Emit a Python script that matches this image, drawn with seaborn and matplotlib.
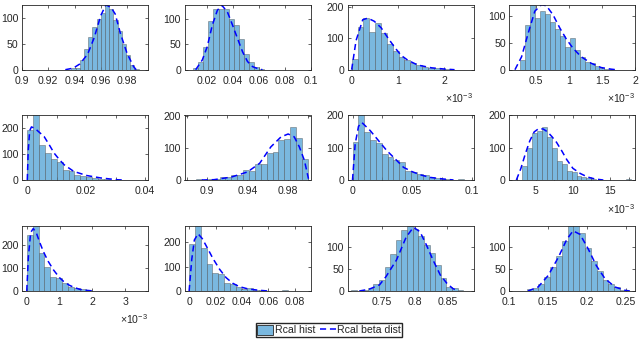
import numpy as np
import pandas as pd
import matplotlib
matplotlib.use("Agg")
import matplotlib.pyplot as plt
from matplotlib.patches import Patch
from matplotlib.lines import Line2D
import seaborn as sns

# ---- values (bin start, bin width, counts, fitted curve) ----
p1_start, p1_width = 0.9376, 0.0032
p1_counts = [4, 3, 18, 40, 63, 82, 99, 110, 126, 118, 97, 75, 50, 28, 10, 2]
p1_cx = [0.933, 0.939, 0.944, 0.950, 0.955, 0.960, 0.964, 0.968, 0.971, 0.975, 0.980, 0.985, 0.987]
p1_cy = [0, 3, 11, 30, 62, 105, 126, 120, 108, 70, 32, 6, 0]

p2_start, p2_width = 0.0097, 0.0039
p2_counts = [3, 16, 45, 95, 118, 118, 118, 100, 88, 60, 30, 15, 5, 1]
p2_cx = [0.0116, 0.0167, 0.0205, 0.0244, 0.0283, 0.0317, 0.036, 0.040, 0.0438, 0.0477, 0.0515, 0.0554, 0.0606, 0.063]
p2_cy = [0, 19, 45, 87, 116, 126, 113, 87, 61, 35, 16, 6, 1, 0]

p3_start, p3_width = 0.0, 0.127e-3
p3_counts = [35, 136, 166, 121, 148, 119, 82, 61, 41, 32, 22, 15, 9, 6, 4, 2, 1]
p3_cx = [0.0, 0.095e-3, 0.24e-3, 0.35e-3, 0.49e-3, 0.64e-3, 0.78e-3, 0.93e-3, 1.07e-3, 1.22e-3, 1.43e-3, 1.73e-3, 2.02e-3, 2.23e-3]
p3_cy = [0, 93, 160, 165, 155, 134, 103, 72, 46, 30, 15, 6, 2, 0]

p4_start, p4_width = 0.26e-3, 0.075e-3
p4_counts = [18, 84, 125, 96, 109, 104, 88, 75, 62, 43, 59, 37, 23, 15, 13, 7, 4, 2, 1]
p4_cx = [0.185e-3, 0.285e-3, 0.385e-3, 0.485e-3, 0.585e-3, 0.66e-3, 0.76e-3, 0.86e-3, 0.96e-3, 1.06e-3, 1.185e-3, 1.335e-3, 1.485e-3, 1.635e-3, 1.71e-3]
p4_cy = [0, 24, 68, 109, 121, 119, 102, 78, 57, 40, 24, 12, 4, 1, 0]

p5_start, p5_width = 0.0, 0.002
p5_counts = [192, 255, 136, 106, 81, 69, 40, 33, 20, 17, 12, 8, 5, 3, 1, 1]
p5_cx = [0.0, 0.0003, 0.0008, 0.0014, 0.0025, 0.004, 0.0057, 0.0075, 0.0091, 0.0108, 0.0125, 0.0158, 0.0203, 0.0249, 0.0305, 0.033]
p5_cy = [0, 110, 190, 205, 200, 185, 168, 135, 104, 80, 59, 33, 17, 8, 1, 0]

p6_start, p6_width = 0.8777, 0.0058
p6_counts = [0, 0, 2, 1, 2, 3, 8, 9, 17, 15, 30, 28, 51, 51, 84, 87, 124, 126, 166, 129, 65]
p6_cx = [0.895, 0.907, 0.924, 0.940, 0.952, 0.963, 0.973, 0.980, 0.986, 0.991, 0.996, 1.0]
p6_cy = [0, 1, 9, 25, 52, 103, 134, 143, 134, 103, 61, 4]

p7_start, p7_width = 0.0, 0.0049
p7_counts = [116, 205, 147, 123, 113, 80, 70, 62, 54, 29, 24, 18, 15, 8, 6, 3, 2, 1, 2]
p7_cx = [0.0, 0.0022, 0.005, 0.0078, 0.0148, 0.0218, 0.0288, 0.0357, 0.0427, 0.0497, 0.0567, 0.065, 0.0762, 0.0846]
p7_cy = [0, 110, 165, 177, 152, 121, 90, 65, 39, 26, 16, 8, 3, 0]

p8_start, p8_width = 3.12e-3, 0.67e-3
p8_counts = [44, 100, 144, 150, 162, 131, 100, 59, 49, 29, 26, 13, 8, 5, 2, 1, 0, 0, 0, 0, 0, 2]
p8_cx = [2.4e-3, 3.0e-3, 3.6e-3, 4.2e-3, 4.8e-3, 5.4e-3, 6.0e-3, 6.6e-3, 7.2e-3, 7.8e-3, 8.5e-3, 9.2e-3, 10.0e-3, 11.0e-3, 12.0e-3, 13.0e-3, 14.1e-3]
p8_cy = [0, 35, 80, 120, 148, 158, 157, 148, 133, 116, 90, 62, 36, 20, 9, 3, 0]

p9_start, p9_width = 0.0, 0.18e-3
p9_counts = [243, 290, 167, 106, 62, 55, 36, 19, 12, 7, 3, 1]
p9_cx = [0.0, 0.05e-3, 0.12e-3, 0.2e-3, 0.3e-3, 0.4e-3, 0.51e-3, 0.65e-3, 0.82e-3, 1.0e-3, 1.13e-3, 1.3e-3, 1.44e-3, 1.6e-3, 1.74e-3, 2.05e-3]
p9_cy = [0, 150, 255, 272, 250, 210, 171, 130, 91, 58, 41, 25, 16, 8, 4, 0]

p10_start, p10_width = 0.0, 0.0044
p10_counts = [192, 270, 175, 110, 73, 68, 34, 29, 18, 10, 12, 5, 3, 2, 1, 0, 3]
p10_cx = [0.0, 0.002, 0.004, 0.0068, 0.010, 0.014, 0.018, 0.023, 0.028, 0.033, 0.038, 0.045, 0.053, 0.060]
p10_cy = [0, 130, 210, 235, 215, 175, 134, 90, 55, 32, 18, 8, 3, 0]

p11_start, p11_width = 0.7023, 0.0086
p11_counts = [3, 1, 2, 8, 16, 25, 55, 85, 118, 140, 149, 142, 125, 105, 88, 60, 30, 10, 7, 2]
p11_cx = [0.715, 0.730, 0.746, 0.756, 0.772, 0.787, 0.798, 0.808, 0.818, 0.828, 0.839, 0.849, 0.858, 0.866]
p11_cy = [0, 4, 14, 33, 71, 124, 146, 136, 105, 71, 37, 18, 6, 0]

p12_start, p12_width = 0.1224, 0.0075
p12_counts = [4, 6, 15, 31, 54, 80, 113, 150, 150, 132, 98, 67, 46, 26, 15, 9, 3, 1]
p12_cx = [0.124, 0.137, 0.150, 0.163, 0.174, 0.182, 0.191, 0.2015, 0.212, 0.223, 0.236, 0.249, 0.255]
p12_cy = [0, 9, 35, 76, 117, 136, 128, 95, 57, 28, 9, 1.5, 0]

# ---- axis ranges and tick labels ----
p1_xlim, p1_ylim = (0.9, 0.996), (0, 126)
p1_xticks = [0.9, 0.92, 0.94, 0.96, 0.98]
p1_xlabels = ["0.9", "0.92", "0.94", "0.96", "0.98"]
p2_xlim, p2_ylim = (0.003, 0.1), (0, 127)
p2_xticks = [0.02, 0.04, 0.06, 0.08, 0.1]
p2_xlabels = ["0.02", "0.04", "0.06", "0.08", "0.1"]
p3_xlim, p3_ylim = (-0.09e-3, 2.64e-3), (0, 208)
p3_xticks = [0.0, 1e-3, 2e-3]
p3_xlabels = ["0", "1", "2"]
p4_xlim, p4_ylim = (0.1e-3, 2.0e-3), (0, 121)
p4_xticks = [0.5e-3, 1e-3, 1.5e-3, 2e-3]
p4_xlabels = ["0.5", "1", "1.5", "2"]
p5_xlim, p5_ylim = (-0.0018, 0.041), (0, 251)
p5_xticks = [0, 0.01, 0.02, 0.03, 0.04]
p5_xlabels = ["0", "", "0.02", "", "0.04"]
p6_xlim, p6_ylim = (0.878, 1.002), (0, 202)
p6_xticks = [0.88, 0.9, 0.92, 0.94, 0.96, 0.98, 1.0]
p6_xlabels = ["", "0.9", "", "0.94", "", "0.98", ""]
p7_xlim, p7_ylim = (-0.0042, 0.1013), (0, 200)
p7_xticks = [0, 0.025, 0.05, 0.075, 0.1]
p7_xlabels = ["0", "", "0.05", "", "0.1"]
p8_xlim, p8_ylim = (1.45e-3, 18.4e-3), (0, 200)
p8_xticks = [2.5e-3, 5e-3, 7.5e-3, 10e-3, 12.5e-3, 15e-3, 17.5e-3]
p8_xlabels = ["", "5", "", "10", "", "15", ""]
p9_xlim, p9_ylim = (-0.145e-3, 3.7e-3), (0, 283)
p9_xticks = [0, 1e-3, 2e-3, 3e-3]
p9_xlabels = ["0", "1", "2", "3"]
p10_xlim, p10_ylim = (-0.0035, 0.092), (0, 267)
p10_xticks = [0, 0.02, 0.04, 0.06, 0.08]
p10_xlabels = ["0", "0.02", "0.04", "0.06", "0.08"]
p11_xlim, p11_ylim = (0.697, 0.89), (0, 149)
p11_xticks = [0.75, 0.8, 0.85]
p11_xlabels = ["0.75", "0.8", "0.85"]
p12_xlim, p12_ylim = (0.1, 0.262), (0, 147)
p12_xticks = [0.1, 0.15, 0.2, 0.25]
p12_xlabels = ["0.1", "0.15", "0.2", "0.25"]

sci_panels = [3, 4, 8, 9]   # panels carrying the x10^-3 exponent

FILL = "#7AB8DF"
EDGE = (0.2, 0.2, 0.2, 0.5)
AXC = "#262626"
FS = 7.6

sns.set_theme(style="ticks", rc={
    "axes.edgecolor": AXC, "axes.linewidth": 0.6,
    "xtick.color": AXC, "ytick.color": AXC,
    "xtick.direction": "in", "ytick.direction": "in",
    "xtick.major.size": 2.5, "ytick.major.size": 2.5,
    "xtick.major.width": 0.5, "ytick.major.width": 0.5,
    "xtick.labelsize": FS, "ytick.labelsize": FS,
    "xtick.major.pad": 4.5, "ytick.major.pad": 2.5,
})
plt.rcParams["font.family"] = ["Liberation Sans", "DejaVu Sans"]
plt.rcParams["mathtext.fontset"] = "custom"
plt.rcParams["mathtext.rm"] = "Liberation Sans"
plt.rcParams["mathtext.it"] = "Liberation Sans"

panels = [
    (p1_start, p1_width, p1_counts, p1_cx, p1_cy, p1_xlim, p1_ylim, p1_xticks, p1_xlabels),
    (p2_start, p2_width, p2_counts, p2_cx, p2_cy, p2_xlim, p2_ylim, p2_xticks, p2_xlabels),
    (p3_start, p3_width, p3_counts, p3_cx, p3_cy, p3_xlim, p3_ylim, p3_xticks, p3_xlabels),
    (p4_start, p4_width, p4_counts, p4_cx, p4_cy, p4_xlim, p4_ylim, p4_xticks, p4_xlabels),
    (p5_start, p5_width, p5_counts, p5_cx, p5_cy, p5_xlim, p5_ylim, p5_xticks, p5_xlabels),
    (p6_start, p6_width, p6_counts, p6_cx, p6_cy, p6_xlim, p6_ylim, p6_xticks, p6_xlabels),
    (p7_start, p7_width, p7_counts, p7_cx, p7_cy, p7_xlim, p7_ylim, p7_xticks, p7_xlabels),
    (p8_start, p8_width, p8_counts, p8_cx, p8_cy, p8_xlim, p8_ylim, p8_xticks, p8_xlabels),
    (p9_start, p9_width, p9_counts, p9_cx, p9_cy, p9_xlim, p9_ylim, p9_xticks, p9_xlabels),
    (p10_start, p10_width, p10_counts, p10_cx, p10_cy, p10_xlim, p10_ylim, p10_xticks, p10_xlabels),
    (p11_start, p11_width, p11_counts, p11_cx, p11_cy, p11_xlim, p11_ylim, p11_xticks, p11_xlabels),
    (p12_start, p12_width, p12_counts, p12_cx, p12_cy, p12_xlim, p12_ylim, p12_xticks, p12_xlabels),
]

W, H = 640, 345
fig = plt.figure(figsize=(W / 100, H / 100), dpi=100)
col_left = [22, 184.5, 347.5, 509.3]
row_top = [4.7, 115, 226]
ax_w, ax_h = 126, 65

for i, (start, width, counts, cx, cy, xlim, ylim, xticks, xlabels) in enumerate(panels):
    r, c = divmod(i, 4)
    ax = fig.add_axes([col_left[c] / W, 1 - (row_top[r] + ax_h) / H, ax_w / W, ax_h / H])
    edges = start + width * np.arange(len(counts) + 1)
    hist_df = pd.DataFrame({"value": edges[:-1] + width / 2, "count": counts})
    curve_df = pd.DataFrame({"x": cx, "pdf": cy})
    sns.histplot(data=hist_df, x="value", weights="count", bins=list(edges), ax=ax,
                 color=FILL, alpha=1, edgecolor=EDGE, linewidth=0.5)
    sns.lineplot(data=curve_df, x="x", y="pdf", ax=ax, color="blue", linewidth=1.1,
                 estimator=None, linestyle=(0, (4, 2.5)), legend=False)
    ax.set_xlim(*xlim)
    ax.set_ylim(*ylim)
    ax.set_xticks(xticks)
    ax.set_xticklabels(xlabels)
    yt = [0, 50, 100] if ylim[1] < 150 else [0, 100, 200]
    ax.set_yticks(yt)
    ax.set_yticklabels([str(v) for v in yt])
    ax.set_xlabel("")
    ax.set_ylabel("")
    ax.tick_params(top=True, right=True)
    for s in ax.spines.values():
        s.set_visible(True)
    if (i + 1) in sci_panels:
        ax.text(1.0, -0.44, r"$\times\mathregular{10^{-3}}$", transform=ax.transAxes,
                ha="right", va="center", fontsize=FS, color=AXC)

handles = [Patch(facecolor=FILL, edgecolor=AXC, linewidth=0.6),
           Line2D([], [], color="blue", linewidth=1.1, linestyle=(0, (4, 2.5)))]
fig.legend(handles, ["Rcal hist", "Rcal beta dist"], ncol=2, loc="center",
           bbox_to_anchor=(329 / W, 1 - 330 / H), frameon=True, fancybox=False,
           edgecolor=AXC, framealpha=1, fontsize=FS, handlelength=1.5,
           handleheight=1.1, borderpad=0.12, columnspacing=0.45, handletextpad=0.15,
           borderaxespad=0)
fig.savefig("out.png", dpi=100)
